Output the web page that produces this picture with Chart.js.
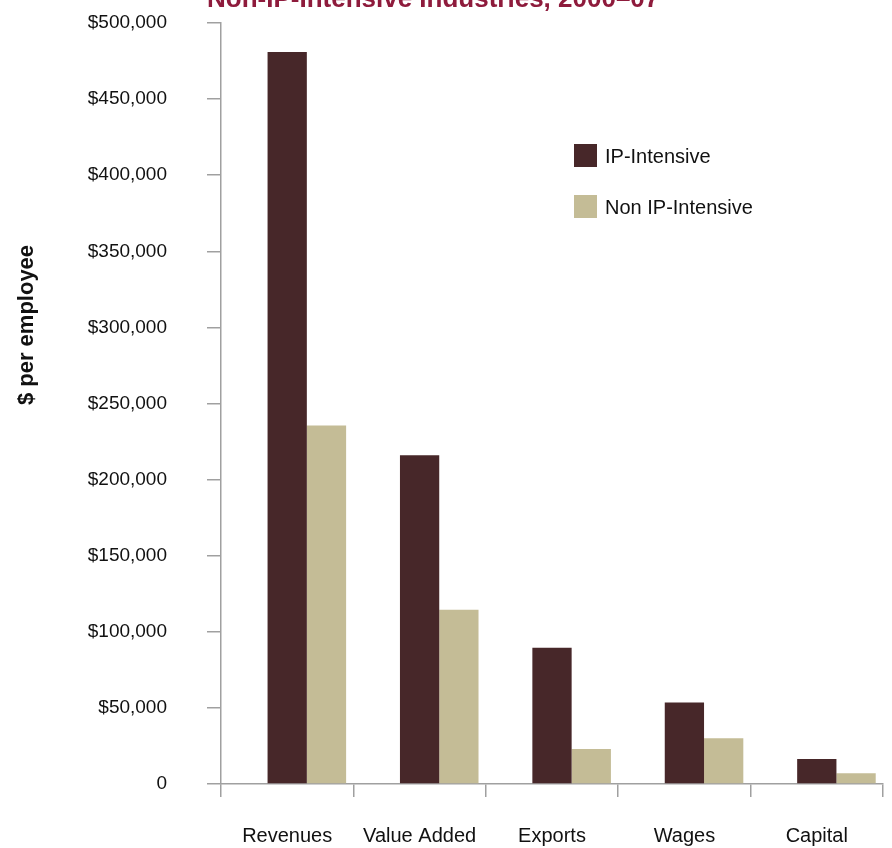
<!DOCTYPE html>
<html>
<head>
<meta charset="utf-8">
<script src="https://cdn.jsdelivr.net/npm/chart.js@4"></script>
<style>
  html, body { margin: 0; padding: 0; background: #fff; }
  #wrap { position: relative; width: 892px; height: 848px; }
</style>
</head>
<body>
<div id="wrap"><canvas id="chart" width="892" height="848"></canvas></div>
<script>
// values, $ per employee
var categories = ['Revenues', 'Value Added', 'Exports', 'Wages', 'Capital'];
var ipIntensive = [481000, 216000, 89500, 53500, 16500];
var nonIpIntensive = [235500, 114500, 23000, 30000, 7000];
var seriesLabels = ['IP-Intensive', 'Non IP-Intensive'];
var seriesColors = ['#472729', '#c4bc96'];
var yMax = 500000;
var yStep = 50000;

var titleText = 'Non-IP-Intensive Industries, 2000\u201307';
var yTitleText = '$ per employee';
var sans = "'Liberation Sans', Arial, sans-serif";

// title, y title and legend drawn on top of the chart
var extras = {
    id: 'extras',
    afterDraw: function(chart) {
        var ctx = chart.ctx;
        var area = chart.chartArea;
        ctx.save();

        // title (top of it runs off the page, as in the source)
        ctx.fillStyle = '#8e1b3c';
        ctx.font = 'bold 26px ' + sans;
        ctx.textAlign = 'left';
        ctx.textBaseline = 'alphabetic';
        ctx.fillText(titleText, area.left - 14, 7);

        // y axis title
        ctx.save();
        ctx.translate(27, 325);
        ctx.rotate(-Math.PI / 2);
        ctx.fillStyle = '#111';
        ctx.font = 'bold 22px ' + sans;
        ctx.textAlign = 'center';
        ctx.textBaseline = 'middle';
        ctx.fillText(yTitleText, 0, 0);
        ctx.restore();

        // legend
        var lx = 574, ly = 144;
        ctx.font = '20px ' + sans;
        ctx.textAlign = 'left';
        ctx.textBaseline = 'middle';
        chart.data.datasets.filter(function(d) { return d.label; }).forEach(function(d, i) {
            var y = ly + i * 51;
            ctx.fillStyle = d.backgroundColor;
            ctx.fillRect(lx, y, 23, 23);
            ctx.fillStyle = '#111';
            ctx.fillText(d.label, lx + 31, y + 13);
        });
        ctx.restore();
    }
};

var ctx = document.getElementById('chart').getContext('2d');
new Chart(ctx, {
    type: 'bar',
    data: {
        labels: categories,
        datasets: [
            // empty slot so each pair sits on the right side of its category
            { label: '', data: categories.map(function() { return null; }), backgroundColor: 'rgba(0,0,0,0)' },
            { label: seriesLabels[0], data: ipIntensive, backgroundColor: seriesColors[0] },
            { label: seriesLabels[1], data: nonIpIntensive, backgroundColor: seriesColors[1] }
        ]
    },
    options: {
        responsive: false,
        animation: false,
        datasets: {
            bar: { categoryPercentage: 0.89, barPercentage: 1.0, borderWidth: 0 }
        },
        layout: { padding: { top: 23, right: 9, bottom: 0, left: 0 } },
        plugins: {
            legend: { display: false },
            title: { display: false },
            tooltip: { enabled: false }
        },
        scales: {
            x: {
                offset: true,
                grid: {
                    offset: true,
                    drawOnChartArea: false,
                    drawTicks: true,
                    tickLength: 13,
                    color: '#a0a0a0',
                    lineWidth: 1.5
                },
                border: { display: true, color: '#a0a0a0', width: 1.5 },
                ticks: {
                    color: '#111',
                    font: { family: sans, size: 20 },
                    padding: 27,
                    maxRotation: 0,
                    autoSkip: false
                },
                afterFit: function(scale) {
                    scale.height = 64;
                    scale.paddingLeft = 0;
                    scale.paddingRight = 0;
                }
            },
            y: {
                min: 0,
                max: yMax,
                grid: {
                    drawOnChartArea: false,
                    drawTicks: true,
                    tickLength: 14,
                    color: '#a0a0a0',
                    lineWidth: 1.5
                },
                border: { display: true, color: '#a0a0a0', width: 1.5 },
                ticks: {
                    stepSize: yStep,
                    color: '#111',
                    padding: 40,
                    font: { family: sans, size: 19 },
                    callback: function(v) {
                        return v === 0 ? '0' : '$' + v.toLocaleString('en-US');
                    }
                },
                afterFit: function(scale) {
                    scale.width = 221;
                    scale.paddingTop = 0;
                    scale.paddingBottom = 0;
                }
            }
        }
    },
    plugins: [extras]
});
</script>
</body>
</html>
